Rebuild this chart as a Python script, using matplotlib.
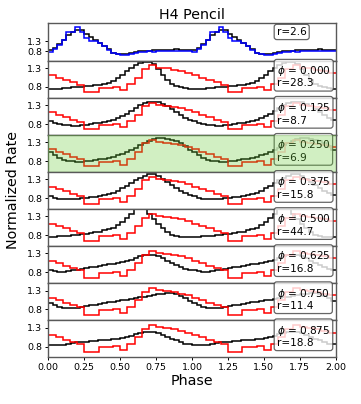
import numpy as np
import matplotlib
matplotlib.use("Agg")
import matplotlib.pyplot as plt
from matplotlib.patches import Rectangle

# one pulse cycle per series, shown twice (phase 0-2)
top_blue = [0.78, 0.90, 1.10, 1.35, 1.78, 1.80, 2.02, 1.80, 1.50, 1.30, 1.32, 1.22, 1.05, 0.85, 0.70, 0.65,
            0.62, 0.62, 0.68, 0.72, 0.74, 0.78, 0.80, 0.78, 0.82, 0.80, 0.82, 0.80, 0.82, 0.84, 0.82, 0.80]
top_black = [0.85, 0.98, 1.15, 1.40, 1.65, 1.78, 1.88, 1.88, 1.70, 1.55, 1.40, 1.22, 1.05, 0.90, 0.72, 0.64,
             0.64, 0.64, 0.70, 0.76, 0.80, 0.82, 0.84, 0.86, 0.86, 0.88, 0.88, 0.88, 0.90, 0.88, 0.88, 0.86]
top_r = "r=2.6"

# observed profile (red), same in every phi panel
obs_red = [1.11, 1.04, 0.98, 0.92, 0.86, 0.66, 0.66, 0.78, 0.78, 0.81,
           0.71, 0.87, 1.05, 1.27, 1.37, 1.31, 1.29, 1.26, 1.22, 1.17]

phis = [0.000, 0.125, 0.250, 0.375, 0.500, 0.625, 0.750, 0.875]
rvals = [28.3, 8.7, 6.9, 15.8, 44.7, 16.8, 11.4, 18.8]
best_phi = 0.250

model_000 = [0.74, 0.75, 0.76, 0.77, 0.78, 0.79, 0.80, 0.81, 0.82, 0.83, 0.85, 0.86, 0.88, 0.90, 0.96, 1.04,
             1.12, 1.21, 1.30, 1.38, 1.44, 1.46, 1.46, 1.42, 1.27, 1.13, 0.99, 0.89, 0.83, 0.79, 0.77, 0.75]
model_125 = [0.88, 0.84, 0.80, 0.78, 0.77, 0.76, 0.76, 0.77, 0.78, 0.80, 0.82, 0.84, 0.86, 0.89, 0.92, 0.96,
             1.01, 1.07, 1.15, 1.23, 1.30, 1.36, 1.38, 1.39, 1.38, 1.33, 1.27, 1.20, 1.12, 1.04, 0.97, 0.92]
model_250 = [1.03, 0.95, 0.89, 0.84, 0.81, 0.80, 0.79, 0.79, 0.80, 0.81, 0.83, 0.85, 0.87, 0.89, 0.92, 0.95,
             0.98, 1.03, 1.09, 1.16, 1.23, 1.29, 1.34, 1.38, 1.40, 1.40, 1.39, 1.37, 1.33, 1.28, 1.19, 1.10]
model_375 = [0.85, 0.81, 0.79, 0.78, 0.78, 0.78, 0.79, 0.80, 0.81, 0.83, 0.84, 0.86, 0.88, 0.91, 0.95, 1.00,
             1.06, 1.13, 1.20, 1.27, 1.34, 1.39, 1.43, 1.43, 1.38, 1.31, 1.22, 1.14, 1.07, 1.00, 0.94, 0.89]
model_500 = [0.75, 0.76, 0.77, 0.78, 0.79, 0.80, 0.81, 0.83, 0.845, 0.86, 0.88, 0.90, 0.93, 0.96, 1.00, 1.06,
             1.15, 1.26, 1.37, 1.60, 1.65, 1.60, 1.37, 1.24, 1.11, 0.98, 0.88, 0.80, 0.77, 0.76, 0.75, 0.75]
model_625 = [0.85, 0.83, 0.82, 0.82, 0.83, 0.85, 0.87, 0.89, 0.91, 0.93, 0.95, 0.97, 0.99, 1.01, 1.03, 1.05,
             1.07, 1.10, 1.14, 1.18, 1.22, 1.25, 1.26, 1.25, 1.22, 1.17, 1.10, 1.04, 0.99, 0.93, 0.88, 0.85]
model_750 = [0.97, 0.91, 0.87, 0.84, 0.83, 0.84, 0.85, 0.87, 0.89, 0.91, 0.93, 0.95, 0.97, 0.99, 1.00, 1.02,
             1.04, 1.06, 1.08, 1.10, 1.12, 1.14, 1.16, 1.18, 1.20, 1.22, 1.23, 1.23, 1.21, 1.16, 1.10, 1.03]
model_875 = [0.85, 0.84, 0.84, 0.85, 0.87, 0.89, 0.91, 0.92, 0.93, 0.94, 0.95, 0.96, 0.97, 0.98, 0.99, 1.00,
             1.02, 1.04, 1.08, 1.12, 1.15, 1.18, 1.19, 1.19, 1.16, 1.11, 1.06, 1.01, 0.96, 0.92, 0.88, 0.86]
models = [model_000, model_125, model_250, model_375, model_500, model_625, model_750, model_875]

yticks = [0.8, 1.3]


def two_cycles(vals):
    v = np.tile(np.asarray(vals, float), 2)
    return v, np.linspace(0, 2, len(v) + 1)


fig, axes = plt.subplots(9, 1, figsize=(3.61, 4.04), dpi=100, sharex=True)
fig.subplots_adjust(left=0.134, right=0.930, top=0.942, bottom=0.116, hspace=0)

box = dict(boxstyle="round,pad=0.25", fc="white", ec="0.25", alpha=0.8, lw=0.9)
lw = 1.1
fs_box = 7.6

ax = axes[0]
v, e = two_cycles(top_black)
ax.stairs(v, e, baseline=None, color="k", lw=lw)
v, e = two_cycles(top_blue)
ax.stairs(v, e, baseline=None, color="b", lw=lw)
ax.set_ylim(0.33, 2.22)
ax.text(1.59, 0.905, top_r, transform=ax.get_xaxis_transform(), ha="left", va="top",
        fontsize=fs_box, bbox=box, zorder=5)
ax.set_title("H4 Pencil", fontsize=10.3, pad=3)

for ax, phi, r, model in zip(axes[1:], phis, rvals, models):
    v, e = two_cycles(model)
    ax.stairs(v, e, baseline=None, color="k", lw=lw)
    v, e = two_cycles(obs_red)
    ax.stairs(v, e, baseline=None, color="red", lw=lw)
    ax.set_ylim(0.52, 1.5)
    ax.text(1.59, 0.905, r"$\phi$ = %.3f" % phi + "\nr=%.1f" % r, transform=ax.get_xaxis_transform(),
            ha="left", va="top", fontsize=fs_box, linespacing=1.05, bbox=box, zorder=5)
    if phi == best_phi:
        ax.add_patch(Rectangle((0, 0), 1, 1, transform=ax.transAxes, color="#69cd37",
                               alpha=0.3, lw=0, zorder=10))

for ax in axes:
    ax.set_xlim(0, 2)
    ax.set_yticks(yticks)
    ax.set_yticklabels(["0.8", "1.3"])
    ax.tick_params(labelsize=6.8, length=2.5, width=0.7, pad=2)
    for s in ax.spines.values():
        s.set_color("0.35")
        s.set_linewidth(1.0)

axes[-1].set_xticks(np.arange(0, 2.01, 0.25))
axes[-1].set_xlabel("Phase", fontsize=10.3, labelpad=1)
fig.text(0.035, 0.53, "Normalized Rate", rotation=90, ha="center", va="center", fontsize=10.3)

fig.savefig("out.png", dpi=100)
